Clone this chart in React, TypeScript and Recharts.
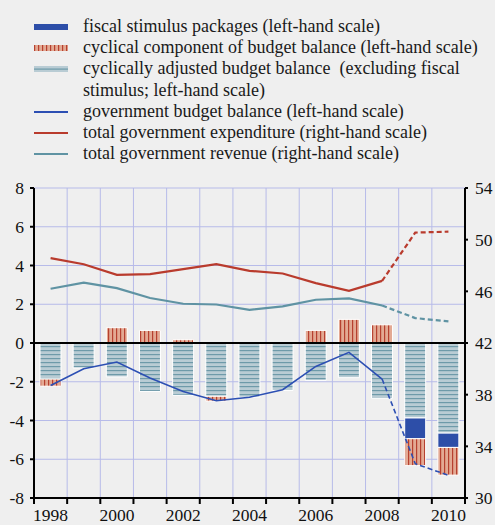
import React from "react";
import {
  ComposedChart,
  Bar,
  Line,
  XAxis,
  YAxis,
  CartesianGrid,
  ReferenceLine,
} from "recharts";

const years = ["1998", "1999", "2000", "2001", "2002", "2003", "2004", "2005", "2006", "2007", "2008", "2009", "2010"];

// left-hand scale, % of GDP
const cyclicallyAdjusted = [-1.86, -1.29, -1.75, -2.5, -2.7, -2.75, -2.8, -2.45, -1.93, -1.79, -2.87, -3.87, -4.65];
const fiscalStimulus = [null, null, null, null, null, null, null, null, null, null, null, -1.07, -0.74];
const cyclicalComponent = [-0.37, null, 0.79, 0.65, 0.17, -0.25, null, null, 0.65, 1.22, 0.94, -1.39, -1.43];
const budgetBalance = [-2.19, -1.33, -0.98, -1.81, -2.5, -2.98, -2.8, -2.41, -1.21, -0.48, -1.86, null, null];
const budgetBalanceForecast = [null, null, null, null, null, null, null, null, null, null, -1.86, -6.23, -6.83];

// right-hand scale, % of GDP
const expenditure = [48.57, 48.1, 47.28, 47.33, 47.72, 48.1, 47.59, 47.38, 46.64, 46.04, 46.81, null, null];
const expenditureForecast = [null, null, null, null, null, null, null, null, null, null, 46.81, 50.55, 50.62];
const revenue = [46.2, 46.68, 46.25, 45.48, 45.04, 44.98, 44.57, 44.83, 45.35, 45.45, 44.9, null, null];
const revenueForecast = [null, null, null, null, null, null, null, null, null, null, 44.9, 43.93, 43.67];

const leftTicks = [-8, -6, -4, -2, 0, 2, 4, 6, 8];
const rightTicks = [30, 34, 38, 42, 46, 50, 54];

const data = years.map((year, i) => ({
  year,
  cyclicallyAdjusted: cyclicallyAdjusted[i],
  fiscalStimulus: fiscalStimulus[i],
  cyclicalComponent: cyclicalComponent[i],
  budgetBalance: budgetBalance[i],
  budgetBalanceForecast: budgetBalanceForecast[i],
  expenditure: expenditure[i],
  expenditureForecast: expenditureForecast[i],
  revenue: revenue[i],
  revenueForecast: revenueForecast[i],
}));

const FONT = '"Liberation Serif", "Times New Roman", serif';
const BG = "#efefef";
const GRID = "#b7bbe9";
const RED = "#b93b2d";
const TEAL = "#5f93a3";
const BLUE = "#2c4fb3";
const STIMULUS = "#2d4ea8";

const CHART_W = 495;
const CHART_H = 355;
const LEFT_W = 34;
const RIGHT_W = 30;
const PLOT_W = CHART_W - LEFT_W - RIGHT_W;
const BAND = PLOT_W / years.length;
const TICK_FONT = 17.5;

function XTick(props: any) {
  const { x, y, payload, index } = props;
  const showLabel = Number(payload.value) % 2 === 0;
  const left = x - BAND / 2;
  return (
    <g>
      <line x1={left} x2={left} y1={y} y2={y + 6} stroke="#000" strokeWidth={2} />
      {index === years.length - 1 && (
        <line x1={x + BAND / 2} x2={x + BAND / 2} y1={y} y2={y + 6} stroke="#000" strokeWidth={2} />
      )}
      {showLabel && (
        <text x={x} y={y + 23} textAnchor="middle" fontFamily={FONT} fontSize={TICK_FONT} fill="#111">
          {payload.value}
        </text>
      )}
    </g>
  );
}

function Swatch({ kind }: { kind: string }) {
  return (
    <svg width={34} height={8} style={{ display: "block" }}>
      <defs>
        <pattern id={"lg-red"} patternUnits="userSpaceOnUse" width={4} height={8}>
          <rect width={4} height={8} fill="#e3a993" />
          <rect width={1.2} height={8} fill="#b6402f" />
        </pattern>
      </defs>
      {kind === "stimulus" && <rect x={0} y={1} width={34} height={6} fill={STIMULUS} />}
      {kind === "cyclical" && <rect x={0} y={1} width={34} height={6} fill="url(#lg-red)" />}
      {kind === "adjusted" && (
        <g>
          <rect x={0} y={1} width={34} height={6} fill="#b9ccd4" />
          <rect x={0} y={3.5} width={34} height={1.2} fill="#6e9aa9" />
        </g>
      )}
      {kind === "balance" && <rect x={0} y={3} width={34} height={2} fill={BLUE} />}
      {kind === "expenditure" && <rect x={0} y={3} width={34} height={2} fill={RED} />}
      {kind === "revenue" && <rect x={0} y={3} width={34} height={2} fill={TEAL} />}
    </svg>
  );
}

const legendItems: { kind: string; label: React.ReactNode }[] = [
  { kind: "stimulus", label: "fiscal stimulus packages (left-hand scale)" },
  { kind: "cyclical", label: "cyclical component of budget balance (left-hand scale)" },
  {
    kind: "adjusted",
    label: (
      <>
        cyclically adjusted budget balance&nbsp; (excluding fiscal
        <br />
        stimulus; left-hand scale)
      </>
    ),
  },
  { kind: "balance", label: "government budget balance (left-hand scale)" },
  { kind: "expenditure", label: "total government expenditure (right-hand scale)" },
  { kind: "revenue", label: "total government revenue (right-hand scale)" },
];

function ChartLegend() {
  return (
    <div style={{ position: "absolute", left: 34, top: 16, fontFamily: FONT, fontSize: 18, lineHeight: "21.2px", color: "#1a1a1a" }}>
      {legendItems.map((item) => (
        <div key={item.kind} style={{ display: "flex", alignItems: "flex-start", whiteSpace: "nowrap" }}>
          <div style={{ width: 49, paddingTop: 7 }}>
            <Swatch kind={item.kind} />
          </div>
          <div>{item.label}</div>
        </div>
      ))}
    </div>
  );
}

export default function App() {
  return (
    <div style={{ position: "absolute", left: 0, top: 0, width: 495, height: 525, background: BG, overflow: "hidden" }}>
      <ChartLegend />
      <div style={{ position: "absolute", left: 0, top: 170 }}>
        <ComposedChart
          width={CHART_W}
          height={CHART_H}
          data={data}
          stackOffset="sign"
          margin={{ top: 18, right: 0, bottom: 0, left: 0 }}
        >
          <defs>
            <pattern id="cyclicalFill" patternUnits="userSpaceOnUse" width={4} height={10}>
              <rect width={4} height={10} fill="#e3a993" />
              <rect width={1.2} height={10} fill="#b6402f" />
            </pattern>
            <pattern id="adjustedFill" patternUnits="userSpaceOnUse" width={10} height={4}>
              <rect width={10} height={4} fill="#b9ccd4" />
              <rect y={0} width={10} height={1.2} fill="#6e9aa9" />
            </pattern>
          </defs>
          <CartesianGrid
            yAxisId="left"
            stroke={GRID}
            strokeWidth={1}
            verticalCoordinatesGenerator={({ offset }: any) =>
              years.slice(1).map((_, i) => offset.left + ((i + 1) * offset.width) / years.length)
            }
          />
          <XAxis
            dataKey="year"
            interval={0}
            height={CHART_H - 18 - 310}
            tick={<XTick />}
            tickLine={false}
            tickSize={0}
            tickMargin={0}
            axisLine={{ stroke: "#000", strokeWidth: 2 }}
          />
          <YAxis
            yAxisId="left"
            orientation="left"
            width={LEFT_W}
            domain={[-8, 8]}
            ticks={leftTicks}
            interval={0}
            tickSize={4}
            tickMargin={6}
            tick={{ fontFamily: FONT, fontSize: TICK_FONT, fill: "#111" }}
            tickLine={{ stroke: "#000", strokeWidth: 2 }}
            axisLine={{ stroke: "#000", strokeWidth: 2 }}
          />
          <YAxis
            yAxisId="right"
            orientation="right"
            width={RIGHT_W}
            domain={[30, 54]}
            ticks={rightTicks}
            interval={0}
            tickSize={3}
            tickMargin={7}
            tick={{ fontFamily: FONT, fontSize: TICK_FONT, fill: "#111", textAnchor: "start" }}
            tickLine={{ stroke: "#000", strokeWidth: 2 }}
            axisLine={{ stroke: "#000", strokeWidth: 2 }}
          />
          <ReferenceLine yAxisId="left" y={0} stroke="#000" strokeWidth={2} />
          <Bar yAxisId="left" dataKey="cyclicallyAdjusted" stackId="a" barSize={21} fill="url(#adjustedFill)" stroke="#fff" strokeWidth={1} isAnimationActive={false} />
          <Bar yAxisId="left" dataKey="fiscalStimulus" stackId="a" barSize={21} fill={STIMULUS} stroke="#fff" strokeWidth={1} isAnimationActive={false} />
          <Bar yAxisId="left" dataKey="cyclicalComponent" stackId="a" barSize={21} fill="url(#cyclicalFill)" stroke="#fff" strokeWidth={1} isAnimationActive={false} />
          <Line yAxisId="left" dataKey="budgetBalance" stroke={BLUE} strokeWidth={1.6} dot={false} isAnimationActive={false} />
          <Line yAxisId="left" dataKey="budgetBalanceForecast" stroke={BLUE} strokeWidth={1.6} strokeDasharray="5 3" dot={false} isAnimationActive={false} />
          <Line yAxisId="right" dataKey="expenditure" stroke={RED} strokeWidth={2.2} dot={false} isAnimationActive={false} />
          <Line yAxisId="right" dataKey="expenditureForecast" stroke={RED} strokeWidth={2.2} strokeDasharray="5 3" dot={false} isAnimationActive={false} />
          <Line yAxisId="right" dataKey="revenue" stroke={TEAL} strokeWidth={2.2} dot={false} isAnimationActive={false} />
          <Line yAxisId="right" dataKey="revenueForecast" stroke={TEAL} strokeWidth={2.2} strokeDasharray="5 3" dot={false} isAnimationActive={false} />
        </ComposedChart>
      </div>
    </div>
  );
}
